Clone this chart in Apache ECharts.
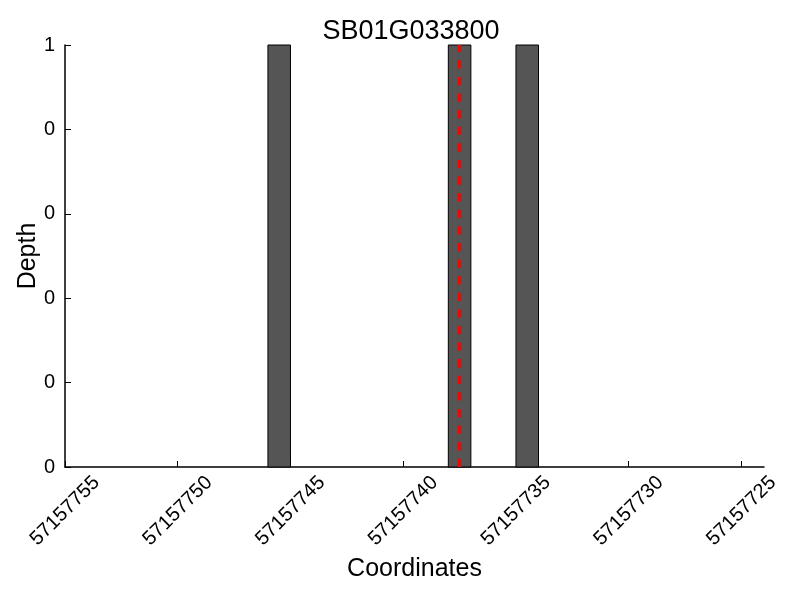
<!DOCTYPE html>
<html>
<head>
<meta charset="utf-8">
<script src="https://cdn.jsdelivr.net/npm/echarts@6/dist/echarts.min.js"></script>
<style>html,body{margin:0;padding:0;background:#fff}#c{width:800px;height:600px}</style>
</head>
<body>
<div id="c"></div>
<script>
const title = 'SB01G033800';
const binStart = [57157746, 57157738, 57157735];
const binEnd = [57157745, 57157737, 57157734];
const depth = [1, 1, 1];
const markerPos = [57157737.5];
const xTicks = [57157755, 57157750, 57157745, 57157740, 57157735, 57157730, 57157725];
const xMin = 57157724, xMax = 57157755;

const font = 'Liberation Sans';
const chart = echarts.init(document.getElementById('c'));
const barData = binStart.map((s, i) => [s, binEnd[i], depth[i]]);

chart.setOption({
  animation: false,
  backgroundColor: '#fff',
  title: {
    text: title, left: 406, top: 13, textAlign: 'center',
    textStyle: {fontFamily: font, fontSize: 27, fontWeight: 'normal', color: '#000'}
  },
  grid: {left: 65, top: 45, width: 699, height: 422, containLabel: false, outerBoundsMode: 'none'},
  xAxis: {
    type: 'value', inverse: true, min: xMin, max: xMax,
    name: 'Coordinates', nameLocation: 'middle', nameGap: 90, nameMoveOverlap: false,
    nameTextStyle: {fontFamily: font, fontSize: 25, color: '#000'},
    axisLine: {show: true, lineStyle: {color: '#000', width: 1.5}},
    axisTick: {show: true, inside: true, length: 6, customValues: xTicks, lineStyle: {color: '#000'}},
    axisLabel: {
      customValues: xTicks, rotate: 45, align: 'center', verticalAlign: 'middle', margin: 44,
      fontFamily: font, fontSize: 20, color: '#000', formatter: v => String(v)
    },
    splitLine: {show: false}
  },
  yAxis: {
    type: 'value', min: 0, max: 1, interval: 0.2,
    name: 'Depth', nameLocation: 'middle', nameGap: 24, nameMoveOverlap: false,
    nameTextStyle: {fontFamily: font, fontSize: 25, color: '#000'},
    axisLine: {show: true, lineStyle: {color: '#000', width: 1.5}},
    axisTick: {show: true, inside: true, length: 6, lineStyle: {color: '#000'}},
    axisLabel: {fontFamily: font, fontSize: 20, color: '#000', margin: 10, formatter: v => String(Math.trunc(v + 1e-9))},
    splitLine: {show: false}
  },
  series: [{
    type: 'custom',
    data: barData,
    encode: {x: [0, 1], y: 2},
    renderItem: function (params, api) {
      const p0 = api.coord([api.value(0), api.value(2)]);
      const p1 = api.coord([api.value(1), 0]);
      return {
        type: 'rect',
        shape: {x: Math.min(p0[0], p1[0]), y: p0[1], width: Math.abs(p1[0] - p0[0]), height: p1[1] - p0[1]},
        style: {fill: '#555555', stroke: '#000', lineWidth: 1}
      };
    },
    markLine: {
      silent: true, symbol: ['none', 'none'], label: {show: false},
      lineStyle: {color: '#ff0000', width: 3.3, type: [8.3, 8.3]},
      data: markerPos.map(v => ({xAxis: v}))
    },
    z: 2
  }]
});
</script>
</body>
</html>
